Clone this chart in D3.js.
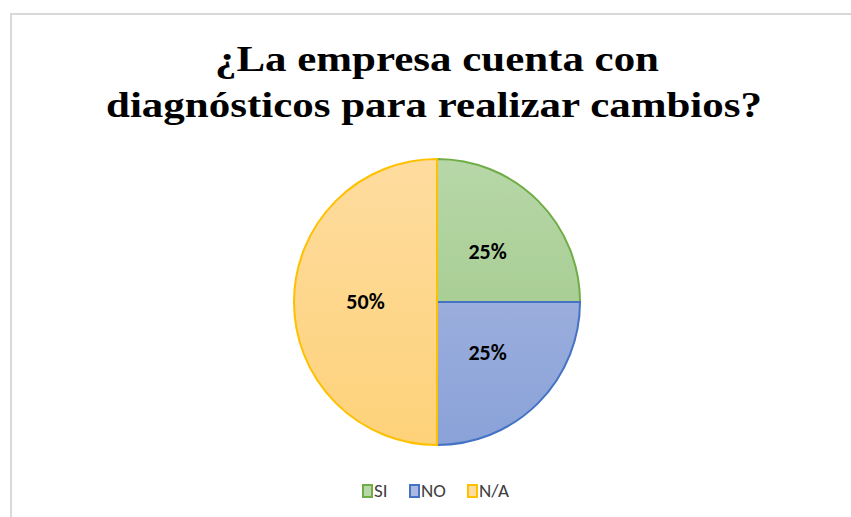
<!DOCTYPE html>
<html>
<head>
<meta charset="utf-8">
<script src="https://cdn.jsdelivr.net/npm/d3@7"></script>
<style>
  body { margin: 0; background: #fff; }
  svg { display: block; }
</style>
</head>
<body>
<svg id="chart"></svg>
<script>
// chart data
const categories = ["SI", "NO", "N/A"];
const values = [25, 25, 50];
const titleLines = ["¿La empresa cuenta con", "diagnósticos para realizar cambios?"];

const colors = {
  stroke: ["#70ad47", "#4472c4", "#ffc000"],
  top: ["#b7d7a8", "#abb9e2", "#fedc9f"],
  bottom: ["#9cc682", "#8aa2d8", "#fed27a"]
};

const width = 851, height = 517;
const cx = 437, cy = 302, radius = 143;

const svg = d3.select("#chart")
  .attr("width", width)
  .attr("height", height);

// chart area border
svg.append("rect")
  .attr("x", 11)
  .attr("y", 14)
  .attr("width", 900)
  .attr("height", 600)
  .attr("fill", "#fff")
  .attr("stroke", "#d9d9d9")
  .attr("stroke-width", 2);

// gradients for slices (coordinates relative to pie centre)
const defs = svg.append("defs");
categories.forEach((c, i) => {
  const g = defs.append("linearGradient")
    .attr("id", "grad" + i)
    .attr("gradientUnits", "userSpaceOnUse")
    .attr("x1", 0).attr("y1", -radius)
    .attr("x2", 0).attr("y2", radius);
  g.append("stop").attr("offset", "0%").attr("stop-color", colors.top[i]);
  g.append("stop").attr("offset", "100%").attr("stop-color", colors.bottom[i]);
});

// title (Word renders it a bit wider than the serif we have)
const titleWidths = [444, 656];
const title = svg.append("text")
  .attr("text-anchor", "middle")
  .style("font-family", "'Liberation Serif', 'Times New Roman', serif")
  .style("font-weight", "bold")
  .style("font-size", "36px")
  .attr("fill", "#000");
title.selectAll("tspan")
  .data(titleLines)
  .enter().append("tspan")
  .attr("x", (d, i) => i === 0 ? 437 : 434)
  .attr("y", (d, i) => 71 + i * 46)
  .attr("textLength", (d, i) => titleWidths[i])
  .attr("lengthAdjust", "spacingAndGlyphs")
  .text(d => d);

// pie
const data = categories.map((c, i) => ({ cat: c, value: values[i], idx: i }));
const pie = d3.pie().value(d => d.value).sort(null);
const arc = d3.arc().innerRadius(0).outerRadius(radius);
const labelArc = d3.arc().innerRadius(radius * 0.5).outerRadius(radius * 0.5);

const g = svg.append("g")
  .attr("transform", `translate(${cx},${cy})`);

const arcs = pie(data);

g.selectAll(".slice")
  .data(arcs)
  .enter().append("path")
  .attr("class", "slice")
  .attr("d", arc)
  .attr("fill", d => `url(#grad${d.data.idx})`);

g.selectAll(".slice-border")
  .data(arcs)
  .enter().append("path")
  .attr("class", "slice-border")
  .attr("d", arc)
  .attr("fill", "none")
  .attr("stroke", d => colors.stroke[d.data.idx])
  .attr("stroke-width", 2);

const total = d3.sum(values);
g.selectAll(".label")
  .data(arcs)
  .enter().append("text")
  .attr("class", "label")
  .attr("transform", d => `translate(${labelArc.centroid(d)})`)
  .attr("text-anchor", "middle")
  .attr("dy", "0.33em")
  .style("font-family", "Carlito, Calibri, Lato, sans-serif")
  .style("font-weight", "bold")
  .style("font-size", "22px")
  .attr("fill", "#000")
  .text(d => Math.round(d.data.value / total * 100) + "%");

// legend
const legend = svg.append("g")
  .attr("transform", "translate(362,491)");
const legendX = [0, 47, 105];
const item = legend.selectAll(".item")
  .data(categories)
  .enter().append("g")
  .attr("class", "item")
  .attr("transform", (d, i) => `translate(${legendX[i]},0)`);
item.append("rect")
  .attr("x", 1)
  .attr("y", -6)
  .attr("width", 9)
  .attr("height", 12)
  .attr("fill", (d, i) => colors.top[i])
  .attr("stroke", (d, i) => colors.stroke[i])
  .attr("stroke-width", 2);
item.append("text")
  .attr("x", 12)
  .attr("dy", "0.33em")
  .style("font-family", "Carlito, Calibri, Lato, sans-serif")
  .style("font-size", "19px")
  .attr("fill", "#404040")
  .text(d => d);
</script>
</body>
</html>
